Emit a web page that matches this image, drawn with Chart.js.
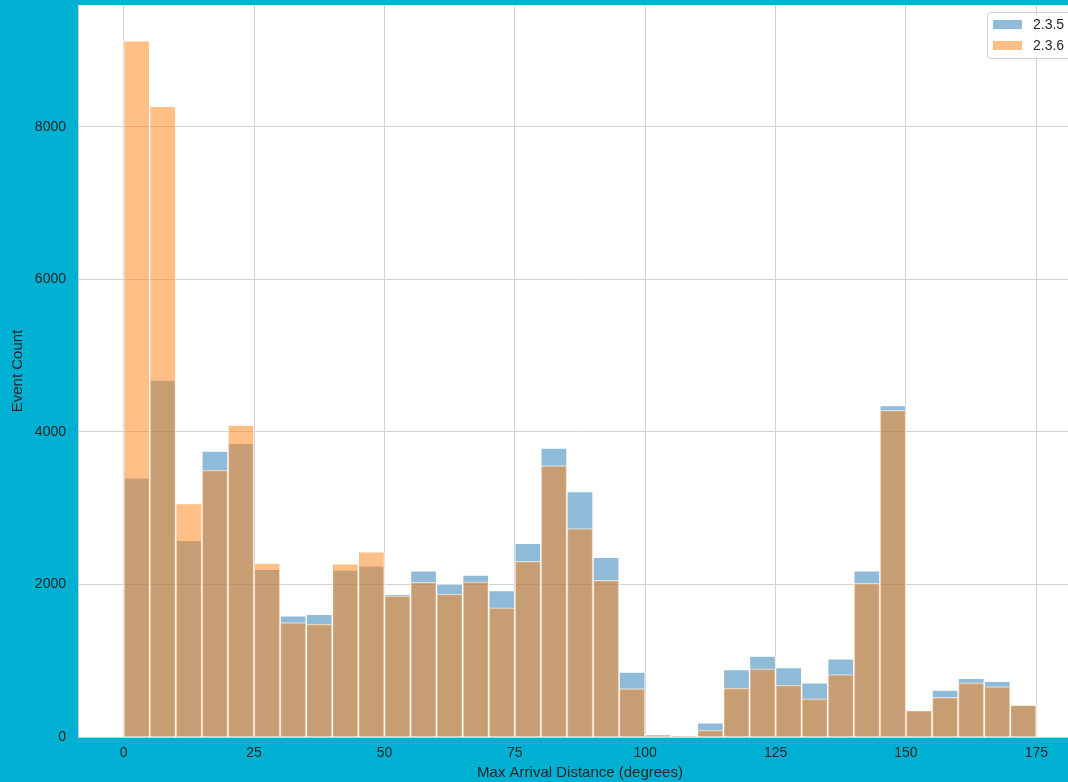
<!DOCTYPE html>
<html>
<head>
<meta charset="utf-8">
<title>Max Arrival Distance</title>
<script src="https://cdn.jsdelivr.net/npm/chart.js@4/dist/chart.umd.min.js"></script>
<style>
    html, body {
        margin: 0;
        padding: 0;
        overflow: hidden;
        background: #00b0d2;
    }
    #wrap {
        width: 1090px;
        height: 782px;
    }
</style>
</head>
<body>
<div id="wrap"><canvas id="distChart" width="1090" height="782"></canvas></div>
<script>
// Histogram bins (5 degree wide), centre of each bin
const binCenters = [
    2.5, 7.5, 12.5, 17.5, 22.5, 27.5, 32.5, 37.5, 42.5, 47.5,
    52.5, 57.5, 62.5, 67.5, 72.5, 77.5, 82.5, 87.5, 92.5, 97.5,
    102.5, 107.5, 112.5, 117.5, 122.5, 127.5, 132.5, 137.5, 142.5, 147.5,
    152.5, 157.5, 162.5, 167.5, 172.5
];

// Event counts per bin, release 2.3.5
const counts235 = [
    3400, 4680, 2580, 3750, 3850, 2200, 1590, 1610, 2190, 2245,
    1870, 2180, 2005, 2125, 1920, 2540, 3790, 3220, 2355, 850,
    35, 12, 185, 885, 1060, 910, 710, 1025, 2180, 4345,
    350, 615, 770, 730, 420
];

// Event counts per bin, release 2.3.6
const counts236 = [
    9130, 8270, 3060, 3500, 4090, 2280, 1500, 1480, 2270, 2430,
    1850, 2030, 1875, 2035, 1695, 2305, 3560, 2735, 2055, 635,
    20, 8, 90, 640, 895, 680, 500, 820, 2015, 4285,
    350, 520, 710, 660, 420
];

const seriesLabels = ['2.3.5', '2.3.6'];
const xTicks = [0, 25, 50, 75, 100, 125, 150, 175];
const yTicks = [0, 2000, 4000, 6000, 8000];

const FONT = "'Liberation Sans', Arial, sans-serif";
const TEXT = '#262626';
const GRID = '#d2d2d2';

function toPoints(values) {
    return binCenters.map((x, i) => ({ x: x, y: values[i] }));
}

// White plotting area on the coloured page
const plotBackground = {
    id: 'plotBackground',
    beforeDraw(chart) {
        const { ctx, chartArea: a } = chart;
        ctx.save();
        ctx.fillStyle = '#ffffff';
        ctx.fillRect(a.left, a.top, a.right - a.left, a.bottom - a.top);
        ctx.restore();
    }
};

// Legend box drawn inside the upper right corner of the plot
const cornerLegend = {
    id: 'cornerLegend',
    afterDatasetsDraw(chart) {
        const { ctx, chartArea: a } = chart;
        const sets = chart.data.datasets;
        const boxW = 88, rowH = 21;
        const boxH = sets.length * rowH + 4;
        const x0 = a.right - 7 - boxW;
        const y0 = a.top + 7;

        ctx.save();
        ctx.fillStyle = 'rgba(255,255,255,0.85)';
        ctx.strokeStyle = '#d0d0d0';
        ctx.lineWidth = 1;
        ctx.beginPath();
        ctx.roundRect(x0 + 0.5, y0 + 0.5, boxW, boxH, 3);
        ctx.fill();
        ctx.stroke();

        ctx.font = '14px ' + FONT;
        ctx.textBaseline = 'middle';
        sets.forEach((ds, i) => {
            const cy = y0 + 12 + i * rowH;
            ctx.fillStyle = ds.backgroundColor;
            ctx.fillRect(x0 + 6, cy - 4, 29, 9);
            ctx.fillStyle = TEXT;
            ctx.fillText(ds.label, x0 + 46, cy + 1);
        });
        ctx.restore();
    }
};

function fixedTicks(list) {
    return scale => { scale.ticks = list.map(v => ({ value: v })); };
}

new Chart(document.getElementById('distChart'), {
    type: 'bar',
    data: {
        datasets: [
            {
                label: seriesLabels[0],
                data: toPoints(counts235),
                backgroundColor: 'rgba(31, 119, 180, 0.5)',
                borderColor: 'rgba(255, 255, 255, 0.6)',
                borderWidth: 1,
                order: 2
            },
            {
                label: seriesLabels[1],
                data: toPoints(counts236),
                backgroundColor: 'rgba(255, 127, 14, 0.5)',
                borderColor: 'rgba(255, 255, 255, 0.6)',
                borderWidth: 1,
                order: 1 // drawn on top of 2.3.5
            }
        ]
    },
    options: {
        responsive: false,
        animation: false,
        events: [],
        grouped: false,
        barPercentage: 1,
        categoryPercentage: 1,
        layout: {
            padding: { top: 5, right: 8, left: 0, bottom: 0 }
        },
        scales: {
            x: {
                type: 'linear',
                offset: false,
                min: -8.75,
                max: 183.75,
                afterBuildTicks: fixedTicks(xTicks),
                afterFit(scale) {
                    scale.height = 45;
                    scale.paddingLeft = 0;
                    scale.paddingRight = 0;
                },
                grid: { color: GRID, drawTicks: false, offset: false },
                border: { color: GRID },
                ticks: {
                    padding: 8,
                    color: TEXT,
                    font: { family: FONT, size: 14 }
                },
                title: {
                    display: true,
                    text: 'Max Arrival Distance (degrees)',
                    color: TEXT,
                    padding: { top: 0, bottom: 0 },
                    font: { family: FONT, size: 15 }
                }
            },
            y: {
                min: 0,
                max: 9600,
                afterBuildTicks: fixedTicks(yTicks),
                afterFit(scale) {
                    scale.width = 78;
                    scale.paddingTop = 0;
                    scale.paddingBottom = 0;
                },
                grid: { color: GRID, drawTicks: false },
                border: { color: GRID },
                ticks: {
                    padding: 12,
                    color: TEXT,
                    font: { family: FONT, size: 14 },
                    callback: v => String(v)
                },
                title: {
                    display: true,
                    text: 'Event Count',
                    color: TEXT,
                    padding: { top: 9, bottom: 0 },
                    font: { family: FONT, size: 15 }
                }
            }
        },
        plugins: {
            legend: { display: false },
            tooltip: { enabled: false }
        }
    },
    plugins: [plotBackground, cornerLegend]
});
</script>
</body>
</html>
